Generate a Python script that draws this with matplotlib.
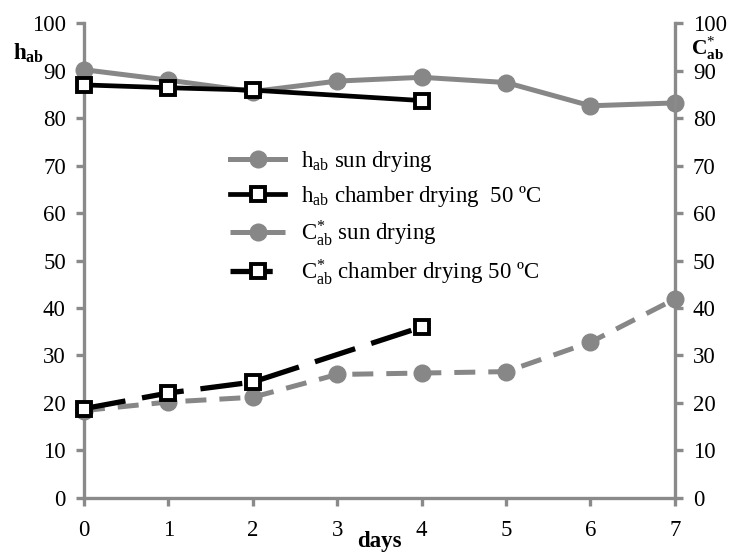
import matplotlib
matplotlib.use("Agg")
import matplotlib.pyplot as plt

plt.rcParams['font.family'] = ['Liberation Serif', 'DejaVu Serif']
plt.rcParams['mathtext.fontset'] = 'custom'
plt.rcParams['mathtext.rm'] = 'Liberation Serif'
plt.rcParams['mathtext.it'] = 'Liberation Serif:italic'
plt.rcParams['mathtext.bf'] = 'Liberation Serif:bold'

# Drying days and colour parameters
days_sun = [0, 1, 2, 3, 4, 5, 6, 7]
days_chamber = [0, 1, 2, 4]

hab_sun = [90.2, 88.0, 85.6, 87.8, 88.6, 87.5, 82.6, 83.2]
hab_chamber = [87.0, 86.4, 85.9, 83.7]
cab_sun = [18.4, 20.2, 21.2, 26.0, 26.3, 26.6, 32.8, 41.9]
cab_chamber = [18.8, 22.1, 24.4, 36.0]

x_ticks = [0, 1, 2, 3, 4, 5, 6, 7]
y_ticks = [0, 10, 20, 30, 40, 50, 60, 70, 80, 90, 100]

labels = [
    r'h$_\mathregular{ab}$ sun drying',
    r'h$_\mathregular{ab}$ chamber drying  50 ºC',
    r'C$^{*}_\mathregular{ab}$ sun drying',
    r'C$^{*}_\mathregular{ab}$ chamber drying 50 ºC',
]

GRAY = '#878787'
AXGRAY = '#8a8a8a'
FS = 16.5

fig = plt.figure(figsize=(7.36, 5.52), dpi=100)
ax = fig.add_axes([0.114, 0.098, 0.803, 0.860])
ax2 = ax.twinx()

common = dict(clip_on=False, zorder=5)
l1, = ax.plot(days_sun, hab_sun, color=GRAY, lw=3.6, marker='o', ms=12,
              label=labels[0], **common)
l2, = ax.plot(days_chamber, hab_chamber, color='black', lw=3.4, marker='s',
              ms=10.5, mfc='white', mec='black', mew=2.8, label=labels[1],
              **common)
l3, = ax2.plot(days_sun, cab_sun, color=GRAY, lw=3.6, marker='o', ms=12,
               dashes=(4.2, 2.6), label=labels[2], **common)
l4, = ax2.plot(days_chamber, cab_chamber, color='black', lw=3.8, marker='s',
               ms=10.5, mfc='white', mec='black', mew=2.8, dashes=(8, 3.2),
               label=labels[3], **common)

for a in (ax, ax2):
    a.set_xlim(0, 7)
    a.set_ylim(0, 100)
    a.set_yticks(y_ticks)
    a.spines['top'].set_visible(False)
    for s in ('left', 'right', 'bottom'):
        a.spines[s].set_color(AXGRAY)
        a.spines[s].set_linewidth(2.4)
    a.tick_params(axis='both', colors=AXGRAY, width=2.4, length=6,
                  labelcolor='black', labelsize=FS, direction='out')

ax.spines['right'].set_visible(False)
ax2.spines['left'].set_visible(False)
ax2.spines['bottom'].set_visible(False)
ax.set_xticks(x_ticks)
ax.tick_params(axis='x', pad=10)
ax.tick_params(axis='y', pad=7)
ax2.tick_params(axis='y', pad=7)

ax.set_xlabel('days', fontsize=FS, fontweight='bold', labelpad=-7)

fig.text(0.018, 0.903, r'h$_\mathbf{ab}$', fontsize=FS, fontweight='bold',
         ha='left', va='center')
fig.text(0.939, 0.912, r'C$^{*}_\mathbf{ab}$', fontsize=15.5, fontweight='bold',
         ha='left', va='center')

leg = ax.legend(handles=[l1, l2, l3, l4], loc='upper left',
                bbox_to_anchor=(0.291, 0.759), bbox_transform=fig.transFigure,
                frameon=False, fontsize=FS, handlelength=2.4,
                labelspacing=0.42, handletextpad=0.7, borderpad=0.2)

fig.savefig('out.png', dpi=100)
